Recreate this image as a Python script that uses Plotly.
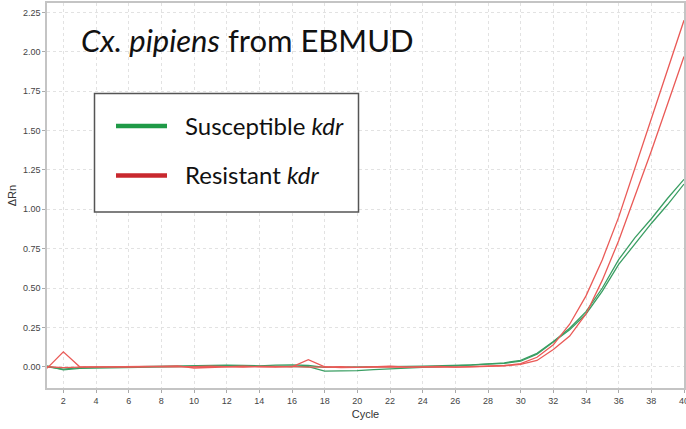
import plotly.graph_objects as go

cycles = list(range(1, 41))

susceptible_a = [0.000, -0.015, -0.005, -0.003, -0.002, 0.000, 0.000, 0.002, 0.003, 0.005,
                 0.008, 0.010, 0.008, 0.006, 0.010, 0.012, 0.008, -0.004, -0.002, 0.000,
                 0.002, 0.000, 0.002, 0.003, 0.005, 0.008, 0.012, 0.018, 0.025, 0.040,
                 0.085, 0.160, 0.245, 0.350, 0.500, 0.680, 0.820, 0.940, 1.070, 1.190]
susceptible_b = [0.005, -0.020, -0.010, -0.008, -0.006, -0.004, -0.002, 0.000, 0.002, 0.004,
                 0.004, 0.006, 0.005, 0.004, 0.006, 0.005, 0.000, -0.028, -0.028, -0.025,
                 -0.018, -0.012, -0.008, -0.004, 0.000, 0.004, 0.010, 0.016, 0.022, 0.035,
                 0.080, 0.155, 0.235, 0.335, 0.480, 0.650, 0.780, 0.910, 1.030, 1.160]
resistant_a = [-0.010, 0.095, 0.000, -0.002, 0.000, -0.003, 0.000, 0.002, 0.005, -0.008,
               -0.005, 0.000, 0.003, 0.000, -0.003, 0.002, -0.003, -0.002, 0.000, -0.004,
               0.000, 0.003, -0.002, 0.000, 0.002, -0.002, 0.000, 0.003, 0.008, 0.020,
               0.060, 0.140, 0.270, 0.450, 0.680, 0.950, 1.260, 1.570, 1.890, 2.200]
resistant_b = [0.000, -0.005, -0.002, 0.000, -0.002, 0.000, 0.002, 0.000, -0.002, 0.000,
               0.003, 0.000, -0.002, 0.002, 0.000, 0.000, 0.045, 0.000, -0.005, -0.003,
               -0.002, 0.000, -0.002, -0.003, 0.000, -0.002, -0.001, 0.000, 0.005, 0.015,
               0.040, 0.110, 0.195, 0.335, 0.550, 0.800, 1.080, 1.370, 1.670, 1.970]

green = "#3a9e63"
red = "#ea5a57"

fig = go.Figure()
for ys, c in [(susceptible_a, green), (susceptible_b, green),
              (resistant_a, red), (resistant_b, red)]:
    fig.add_trace(go.Scatter(x=cycles, y=ys, mode="lines",
                             line=dict(color=c, width=1.3), showlegend=False,
                             hoverinfo="skip"))

axis_common = dict(
    showgrid=True, gridcolor="#e2e2e2", griddash="dot", gridwidth=1,
    showline=True, mirror=True, linecolor="#c4c4c4", linewidth=1.5,
    ticks="outside", ticklen=3, tickcolor="#aaaaaa",
    tickfont=dict(family="Liberation Sans", size=9, color="#444444"),
    zeroline=False, ticklabeloverflow="allow", automargin=False,
)

fig.update_layout(
    width=686, height=429,
    margin=dict(l=47, r=2, t=3, b=41),
    paper_bgcolor="white", plot_bgcolor="white",
    xaxis=dict(range=[1, 40], tickvals=list(range(2, 41, 2)),
               title=dict(text="Cycle", standoff=6,
                          font=dict(family="Liberation Sans", size=11, color="#333333")),
               **axis_common),
    yaxis=dict(range=[-0.135, 2.31], tickvals=[0, 0.25, 0.5, 0.75, 1.0, 1.25, 1.5, 1.75, 2.0, 2.25],
               tickformat=".2f",
               title=dict(text="ΔRn", standoff=4,
                          font=dict(family="Liberation Sans", size=11, color="#333333")),
               **axis_common),
)


def px(xp):
    return (xp - 47) / 637


def py(yp):
    return 1 - (yp - 3) / 385


# Title
fig.add_annotation(xref="paper", yref="paper", x=px(79), y=py(40),
                   xanchor="left", yanchor="middle", showarrow=False,
                   text="<i>Cx. pipiens</i> from EBMUD",
                   font=dict(family="Lato", size=31, color="#111111"))

# Legend box
fig.add_shape(type="rect", xref="paper", yref="paper",
              x0=px(94.5), x1=px(358.5), y0=py(212), y1=py(93.5),
              line=dict(color="#555555", width=1.5), fillcolor="white", layer="above")
legend_items = [("Susceptible <i>kdr</i>", "#1f9a47", 126),
                ("Resistant <i>kdr</i>", "#c8282e", 175.5)]
for label, col, yy in legend_items:
    fig.add_shape(type="line", xref="paper", yref="paper",
                  x0=px(116), x1=px(167), y0=py(yy), y1=py(yy),
                  line=dict(color=col, width=4.5), layer="above")
    fig.add_annotation(xref="paper", yref="paper", x=px(183), y=py(yy - 1),
                       xanchor="left", yanchor="middle", showarrow=False,
                       text=label, font=dict(family="Lato", size=24, color="#111111"))

fig.write_html("out.html")
